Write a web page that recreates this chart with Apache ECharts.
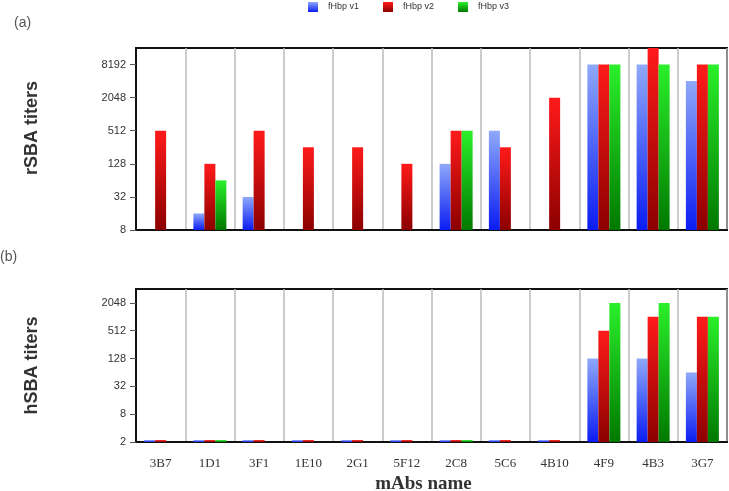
<!DOCTYPE html>
<html>
<head>
<meta charset="utf-8">
<style>
  html, body { margin: 0; padding: 0; background: #fff; }
  #chart { width: 729px; height: 491px; }
</style>
<script src="https://cdn.jsdelivr.net/npm/echarts@6/dist/echarts.min.js"></script>
</head>
<body>
<div id="chart"></div>
<script>
// mAbs on the x axis
var categories = ['3B7', '1D1', '3F1', '1E10', '2G1', '5F12', '2C8', '5C6', '4B10', '4F9', '4B3', '3G7']
var seriesNames = ['fHbp v1', 'fHbp v2', 'fHbp v3']

// (a) rSBA titers
var rsbaV1 = [null, 16, 32, null, null, null, 128, 512, null, 8192, 8192, 4096]
var rsbaV2 = [512, 128, 512, 256, 256, 128, 512, 256, 2048, 8192, 16384, 8192]
var rsbaV3 = [null, 64, null, null, null, null, 512, null, null, 8192, 8192, 8192]

// (b) hSBA titers (values at the detection floor show as slivers)
var hsbaV1 = [2.2, 2.2, 2.2, 2.2, 2.2, 2.2, 2.2, 2.2, 2.2, 128, 128, 64]
var hsbaV2 = [2.2, 2.2, 2.2, 2.2, 2.2, 2.2, 2.2, 2.2, 2.2, 512, 1024, 1024]
var hsbaV3 = [null, 2.2, null, null, null, null, 2.2, null, null, 2048, 2048, 1024]

function grad(top, bottom) {
  return new echarts.graphic.LinearGradient(0, 0, 0, 1, [
    { offset: 0, color: top },
    { offset: 1, color: bottom }
  ])
}

var colors = [
  grad('#8fa9fb', '#0a1cf2'),
  grad('#ff1a1a', '#8c0000'),
  grad('#2af02a', '#007800')
]

var chart = echarts.init(document.getElementById('chart'))

function yAxisFor(gridIndex, name, min, max, namePad) {
  return {
    type: 'log',
    logBase: 2,
    gridIndex: gridIndex,
    min: min,
    max: max,
    interval: 2,
    name: name,
    nameLocation: 'middle',
    nameGap: 95,
    nameTextStyle: {
      fontFamily: 'Liberation Sans',
      fontWeight: 'bold',
      fontSize: 18,
      color: '#333',
      padding: namePad
    },
    axisLine: { show: true, lineStyle: { color: '#111', width: 2 } },
    axisTick: { show: true, length: 6, lineStyle: { color: '#555' } },
    axisLabel: {
      fontFamily: 'Liberation Sans',
      fontSize: 11,
      color: '#333',
      margin: 10,
      showMaxLabel: false,
      formatter: function (v) { return String(Math.round(v)) }
    },
    splitLine: { show: false }
  }
}

function xAxisFor(gridIndex, showLabels) {
  return {
    type: 'category',
    gridIndex: gridIndex,
    data: categories,
    axisLine: { show: true, lineStyle: { color: '#111', width: 2 } },
    axisTick: { show: false },
    axisLabel: {
      show: showLabels,
      interval: 0,
      fontFamily: 'Liberation Serif',
      fontSize: 13,
      color: '#333',
      margin: 15
    },
    splitLine: { show: true, lineStyle: { color: '#bbb', width: 1.5 } },
    name: showLabels ? 'mAbs name' : '',
    nameLocation: 'middle',
    nameGap: 33,
    nameTextStyle: {
      fontFamily: 'Liberation Serif',
      fontWeight: 'bold',
      fontSize: 19,
      color: '#333',
      padding: [0, 16, 0, 0]
    }
  }
}

function barSeries(i, xi, data) {
  return {
    name: seriesNames[i],
    type: 'bar',
    xAxisIndex: xi,
    yAxisIndex: xi,
    data: data,
    barWidth: 11,
    barGap: '0%',
    itemStyle: { color: colors[i] },
    clip: true
  }
}

chart.setOption({
  animation: false,
  backgroundColor: '#fff',
  legend: {
    data: seriesNames,
    left: 308,
    top: 2,
    padding: 0,
    icon: 'rect',
    itemWidth: 10,
    itemHeight: 10,
    itemGap: 24,
    textStyle: { fontFamily: 'Liberation Sans', fontSize: 9, color: '#333', padding: [0, 0, 0, 5] }
  },
  grid: [
    { left: 136, right: 2, top: 48, bottom: 261, show: true, borderColor: '#111', borderWidth: 2, outerBoundsMode: 'none' },
    { left: 136, right: 2, top: 289, bottom: 49, show: true, borderColor: '#111', borderWidth: 2, outerBoundsMode: 'none' }
  ],
  xAxis: [xAxisFor(0, false), xAxisFor(1, true)],
  yAxis: [
    yAxisFor(0, 'rSBA titers', 8, 16384, [0, 0, 0, 22]),
    yAxisFor(1, 'hSBA titers', 2, 4096, 0)
  ],
  graphic: [
    { type: 'text', left: 14, top: 16, style: { text: '(a)', fontFamily: 'Liberation Sans', fontSize: 14, fill: '#555' } },
    { type: 'text', left: 0, top: 250, style: { text: '(b)', fontFamily: 'Liberation Sans', fontSize: 14, fill: '#555' } }
  ],
  series: [
    barSeries(0, 0, rsbaV1),
    barSeries(1, 0, rsbaV2),
    barSeries(2, 0, rsbaV3),
    barSeries(0, 1, hsbaV1),
    barSeries(1, 1, hsbaV2),
    barSeries(2, 1, hsbaV3)
  ]
})
</script>
</body>
</html>
